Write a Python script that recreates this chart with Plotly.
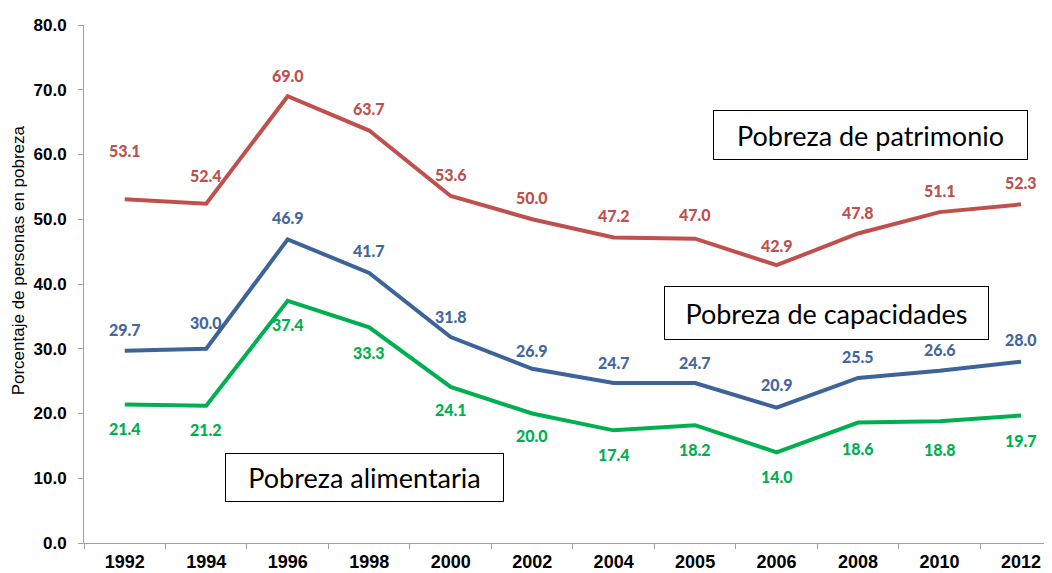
import plotly.graph_objects as go

years = ["1992", "1994", "1996", "1998", "2000", "2002", "2004", "2005", "2006", "2008", "2010", "2012"]
patrimonio = [53.1, 52.4, 69.0, 63.7, 53.6, 50.0, 47.2, 47.0, 42.9, 47.8, 51.1, 52.3]
capacidades = [29.7, 30.0, 46.9, 41.7, 31.8, 26.9, 24.7, 24.7, 20.9, 25.5, 26.6, 28.0]
alimentaria = [21.4, 21.2, 37.4, 33.3, 24.1, 20.0, 17.4, 18.2, 14.0, 18.6, 18.8, 19.7]

# label offsets in pixels (style)
shift_pat = [49, 28, 21, 22, 21, 22, 22, 24, 20, 21, 22, 22]
shift_cap = [21, 26, 22, 22, 21, 18, 21, 21, 23, 21, 21, 22]
shift_ali = [-24, -24, -24, -25, -23, -22, -24, -24, -24, -26, -28, -25]

RED = "#C0504D"
BLUE = "#3C6499"
BLUE_T = "#44679E"
GREEN = "#00B050"

fig = go.Figure()
for vals, col in [(patrimonio, RED), (capacidades, BLUE), (alimentaria, GREEN)]:
    fig.add_trace(go.Scatter(x=years, y=vals, mode="lines",
                             line=dict(color=col, width=4), showlegend=False,
                             hoverinfo="skip"))

annotations = []
for vals, shifts, col in [(patrimonio, shift_pat, RED), (capacidades, shift_cap, BLUE_T),
                          (alimentaria, shift_ali, GREEN)]:
    for i, (v, s) in enumerate(zip(vals, shifts)):
        annotations.append(dict(x=i, y=v, xref="x", yref="y", text=f"{v:.1f}",
                                showarrow=False, yshift=s,
                                font=dict(family="Lato", size=16, color=col, weight=900)))

box_font = dict(family="Lato", size=27, color="black")
for text, xp, yp, w, h in [("Pobreza de patrimonio", 0.813, 0.788, 313, 48),
                           ("Pobreza de capacidades", 0.767, 0.444, 323, 52),
                           ("Pobreza alimentaria", 0.290, 0.127, 277, 47)]:
    annotations.append(dict(x=xp, y=yp, xref="paper", yref="paper", text=text,
                            showarrow=False, font=box_font, bordercolor="black",
                            borderwidth=1, borderpad=0, bgcolor="white",
                            width=w, height=h, xanchor="center", yanchor="middle"))

# y-axis title
annotations.append(dict(x=-0.068, y=0.546, xref="paper", yref="paper",
                        text="Porcentaje de personas en pobreza", textangle=-90,
                        showarrow=False, xanchor="center", yanchor="middle",
                        font=dict(family="Liberation Sans", size=17, color="black")))

fig.update_layout(
    width=1044, height=565,
    margin=dict(l=76, r=0, t=17, b=30),
    paper_bgcolor="white", plot_bgcolor="white",
    annotations=annotations,
    xaxis=dict(type="category", range=[-0.5, 11.38], showgrid=False,
               showline=True, linecolor="#A0A0A0", linewidth=1,
               ticks="outside", tickson="boundaries", ticklen=5, tickcolor="#A0A0A0",
               ticklabelstandoff=2,
               tickfont=dict(family="Liberation Sans", size=18, color="black", weight="bold")),
    yaxis=dict(range=[0, 80], dtick=10, tickformat=".1f", showgrid=False, zeroline=False,
               showline=True, linecolor="#A0A0A0", linewidth=1,
               ticks="outside", ticklen=5, tickcolor="#A0A0A0", ticklabelstandoff=8,
               tickfont=dict(family="Liberation Sans", size=17, color="black", weight="bold")),
)

fig.write_html("out.html")
